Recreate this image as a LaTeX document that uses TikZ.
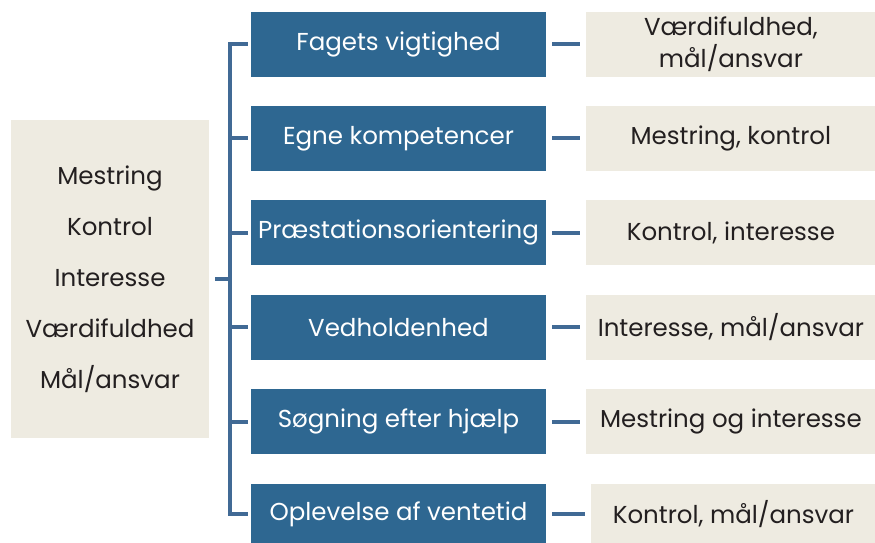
\documentclass[tikz,border=0pt]{standalone}
\usepackage{fontspec}
\setmainfont{Poppins}
\usetikzlibrary{positioning}
\definecolor{boxblue}{HTML}{2E6791}
\definecolor{linkblue}{HTML}{416A95}
\definecolor{paper}{HTML}{EEEBE1}
\definecolor{ink}{HTML}{231F20}

\begin{document}
\begin{tikzpicture}[x=1pt,y=-1pt,
  every node/.style={rectangle,inner sep=0pt,font=\fontsize{24.5}{32}\selectfont},
  item/.style={fill=boxblue,text=white,minimum width=295pt,minimum height=65pt},
  result/.style={fill=paper,text=ink,minimum width=289pt,minimum height=65pt,align=center},
  link/.style={draw=linkblue,line width=4pt}
]
\useasboundingbox (0,0) rectangle (875,542);

% left box
\node[fill=paper,text=ink,minimum width=198pt,minimum height=318pt,align=center,
  font=\fontsize{24.5}{51}\selectfont] (src) at (110,279)
  {Mestring\\Kontrol\\Interesse\\Værdifuldhed\\Mål/ansvar};

% middle column
\node[item] (b1) at (398.5,44) {Fagets vigtighed};
\node[item,below=29pt of b1] (b2) {Egne kompetencer};
\node[item,below=29pt of b2] (b3) {Præstationsorientering};
\node[item,below=29pt of b3] (b4) {Vedholdenhed};
\node[item,below=29pt of b4] (b5) {Søgning efter hjælp};
\node[item,below=29pt of b5,minimum height=61pt] (b6) {Oplevelse af ventetid};

% right column
\node[result,right=40pt of b1] (r1) {Værdifuldhed,\\mål/ansvar};
\node[result,right=40pt of b2] (r2) {Mestring, kontrol};
\node[result,right=40pt of b3] (r3) {Kontrol, interesse};
\node[result,right=40pt of b4] (r4) {Interesse, mål/ansvar};
\node[result,right=40pt of b5] (r5) {Mestring og interesse};
\node[result,right=45pt of b6,minimum width=284pt,minimum height=61pt] (r6) {Kontrol, mål/ansvar};

% bracket
\coordinate (jn) at (230,0);
\draw[link] (src.east) ++(6,0) -- (jn|-src.east);
\draw[link,line cap=rect] (jn|-b1.west) -- (jn|-b6.west);
\foreach \i in {1,...,6}{
  \draw[link] (jn|-b\i.west) -- (b\i.west) [shorten >=3pt];
  \draw[link,shorten <=6pt,shorten >=6pt] (b\i.east) -- (r\i.west);
}
\end{tikzpicture}
\end{document}
